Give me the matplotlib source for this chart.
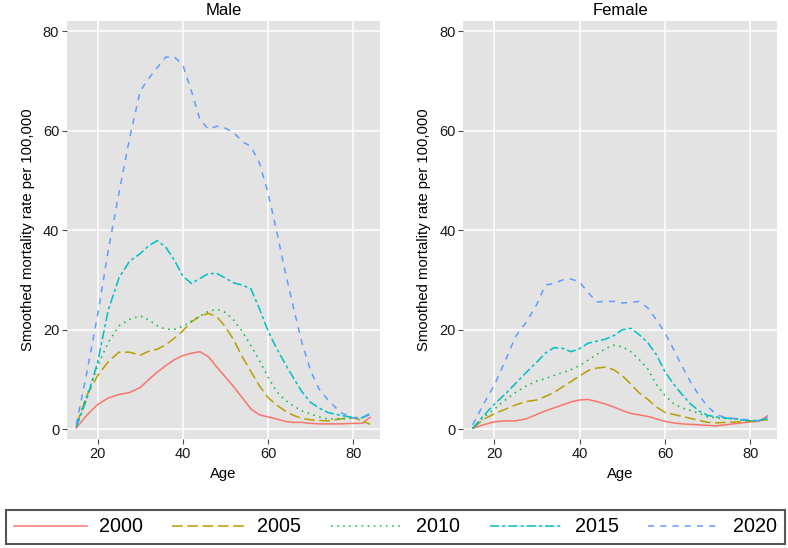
import matplotlib
matplotlib.use("Agg")
import matplotlib.pyplot as plt

plt.rcParams['font.family'] = ['Liberation Sans', 'DejaVu Sans']

ages = [15, 17.5, 20, 22.5, 25, 27.5, 30, 32, 34, 36, 38, 40, 42, 44, 46, 48, 50,
        52, 54, 56, 58, 60, 62, 64, 66, 68, 70, 72, 74, 77, 80, 82, 84]

years = ["2000", "2005", "2010", "2015", "2020"]

male_2000 = [0.3, 2.9, 5.0, 6.3, 7.0, 7.4, 8.4, 10.0, 11.5, 12.8, 14.0, 14.8, 15.3, 15.6, 14.6, 12.5, 10.5,
             8.5, 6.3, 4.1, 2.9, 2.5, 2.1, 1.6, 1.4, 1.4, 1.2, 1.1, 1.1, 1.1, 1.2, 1.2, 2.4]
male_2005 = [0.9, 6.9, 10.8, 13.6, 15.5, 15.5, 14.9, 15.7, 16.1, 17.0, 18.3, 19.8, 21.6, 22.7, 23.3, 22.6, 20.6,
             17.9, 14.5, 11.6, 8.7, 6.4, 4.9, 3.7, 2.8, 2.2, 1.9, 1.8, 1.7, 2.1, 2.3, 1.8, 1.0]
male_2010 = [0.5, 6.9, 12.7, 17.5, 20.8, 22.1, 22.8, 22.0, 20.8, 20.1, 20.1, 20.7, 21.7, 22.8, 23.7, 24.1, 23.5,
             21.9, 19.6, 16.8, 13.8, 10.5, 7.6, 5.9, 4.7, 3.7, 3.1, 2.5, 2.1, 2.1, 2.3, 2.3, 3.2]
male_2015 = [0.5, 6.2, 13.5, 24.0, 30.4, 33.8, 35.3, 36.9, 37.9, 36.6, 34.0, 30.8, 29.3, 30.3, 31.3, 31.3, 30.4,
             29.4, 29.0, 28.2, 24.2, 19.8, 16.3, 13.2, 10.3, 7.5, 5.4, 4.3, 3.4, 2.8, 2.4, 2.3, 3.2]
male_2020 = [1.0, 11.6, 23.0, 36.0, 47.5, 58.5, 68.0, 70.5, 72.7, 74.8, 74.8, 73.2, 68.0, 62.3, 60.3, 60.9, 60.5,
             59.6, 57.8, 56.8, 53.5, 47.5, 40.0, 31.8, 24.4, 17.3, 11.8, 8.1, 6.0, 3.4, 2.3, 2.2, 3.0]

female_2000 = [0.2, 0.9, 1.5, 1.7, 1.7, 2.1, 3.0, 3.7, 4.3, 4.9, 5.5, 5.9, 6.0, 5.6, 5.1, 4.5, 3.8,
               3.2, 2.9, 2.6, 2.1, 1.6, 1.3, 1.1, 1.0, 0.9, 0.8, 0.7, 0.9, 1.2, 1.5, 1.6, 2.7]
female_2005 = [0.2, 2.0, 3.1, 4.0, 4.9, 5.6, 5.9, 6.6, 7.4, 8.5, 9.6, 10.7, 11.8, 12.3, 12.5, 12.0, 10.8,
               9.1, 7.3, 6.0, 4.5, 3.4, 3.0, 2.6, 2.2, 1.8, 1.4, 1.3, 1.4, 1.5, 1.7, 1.8, 1.9]
female_2010 = [0.2, 2.4, 4.0, 5.8, 7.4, 8.7, 9.7, 10.2, 10.8, 11.4, 12.0, 12.8, 13.9, 15.0, 16.2, 16.9, 16.6,
               15.6, 14.0, 12.1, 9.0, 6.8, 5.2, 4.3, 3.8, 3.2, 2.5, 2.3, 2.2, 2.1, 1.7, 1.8, 1.9]
female_2015 = [0.2, 2.7, 5.0, 7.0, 9.2, 11.4, 13.5, 15.3, 16.4, 16.3, 15.6, 16.2, 17.3, 17.7, 18.1, 18.8, 20.0,
               20.3, 19.0, 17.4, 15.0, 11.6, 9.1, 7.0, 5.1, 3.7, 2.8, 2.5, 2.3, 2.0, 1.7, 1.8, 2.2]
female_2020 = [0.9, 5.0, 8.8, 13.5, 18.6, 21.5, 25.1, 29.0, 29.3, 30.0, 30.2, 29.6, 27.5, 25.6, 25.7, 25.7, 25.4,
               25.5, 25.7, 24.4, 22.0, 19.4, 16.1, 12.7, 9.5, 6.8, 4.6, 3.0, 2.4, 2.1, 1.9, 1.7, 2.5]

panels = ["Male", "Female"]
male_series = [male_2000, male_2005, male_2010, male_2015, male_2020]
female_series = [female_2000, female_2005, female_2010, female_2015, female_2020]

colors = ['#F8766D', '#B79F00', '#00BA38', '#00BFC4', '#619CFF']
dashes = [None, (7, 3), (1, 3), (6, 2, 2, 2), (4, 4)]

W, H = 788, 548
fig = plt.figure(figsize=(W / 100, H / 100), dpi=100)

ax_px = [(67, 20.7, 313, 418.6), (463.3, 20.7, 314, 418.6)]
axes = []
for (l, t, w, h) in ax_px:
    axes.append(fig.add_axes([l / W, 1 - (t + h) / H, w / W, h / H]))

for ax, title, series in zip(axes, panels, [male_series, female_series]):
    ax.set_facecolor('#E3E3E3')
    for sp in ax.spines.values():
        sp.set_visible(False)
    ax.grid(True, color='white', lw=1.1)
    ax.set_axisbelow(True)
    for yr, vals, c, d in zip(years, series, colors, dashes):
        line, = ax.plot(ages, vals, color=c, lw=1.1, label=yr)
        if d is not None:
            line.set_dashes(d)
    ax.set_xlim(12.8, 86.3)
    ax.set_ylim(-2.0, 82.1)
    ax.set_xticks([20, 40, 60, 80])
    ax.set_yticks([0, 20, 40, 60, 80])
    ax.tick_params(axis='both', direction='out', length=3.6, width=0.8, color='#4D4D4D',
                   labelsize=10.5, labelcolor='#1A1A1A', pad=2)
    ax.set_title(title, fontsize=12, pad=4)
    ax.set_xlabel("Age", fontsize=10.7)
    ax.set_ylabel("Smoothed mortality rate per 100,000", fontsize=10.7)
    ax.xaxis.set_label_coords(0.5, -0.066)
    ax.yaxis.set_label_coords(-0.102, 0.5)

handles, labels = axes[0].get_legend_handles_labels()
leg = fig.legend(handles, labels, ncol=5, loc='center',
                 bbox_to_anchor=(6 / W, 1 - 546 / H, 779 / W, 38 / H), mode='expand',
                 fontsize=14.2, handlelength=3.7, handletextpad=0.6, borderpad=0.4,
                 borderaxespad=0, fancybox=False, framealpha=1, edgecolor='#555555')
leg.get_frame().set_linewidth(1.5)

fig.savefig("out.png", dpi=100)
